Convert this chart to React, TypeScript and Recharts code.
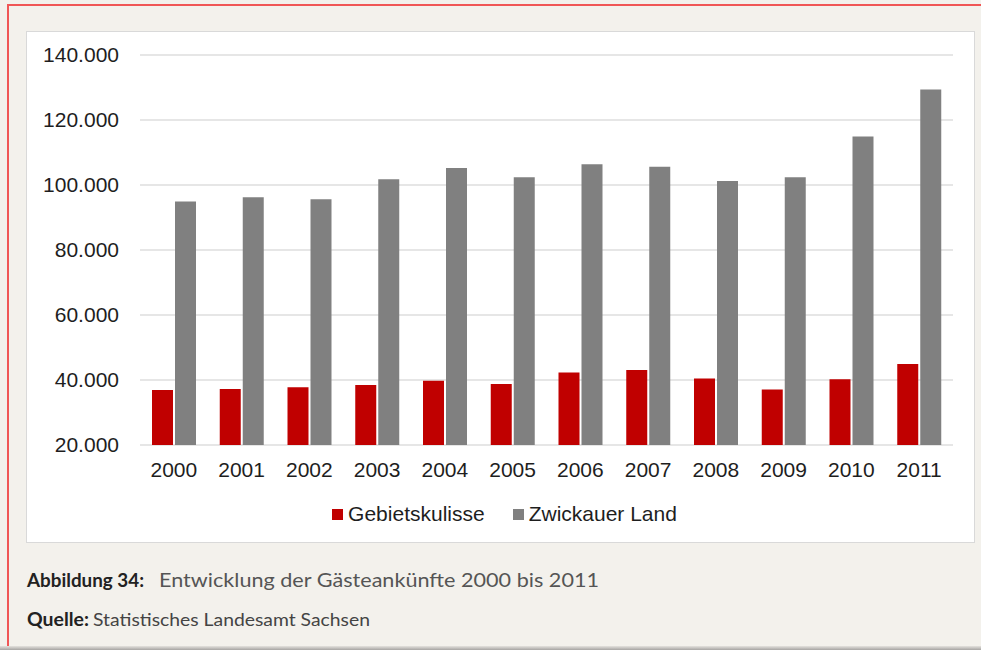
import React from "react";
import {
  Bar,
  BarChart,
  CartesianGrid,
  Legend,
  XAxis,
  YAxis,
} from "recharts";

// Gästeankünfte 2000 - 2011
const years = [
  "2000", "2001", "2002", "2003", "2004", "2005",
  "2006", "2007", "2008", "2009", "2010", "2011",
];
const gebietskulisse = [
  36900, 37200, 37800, 38500, 39800, 38800, 42300, 43100, 40500, 37100, 40200,
  44900,
];
const zwickauerLand = [
  94900, 96200, 95600, 101800, 105200, 102400, 106400, 105600, 101200, 102400,
  114900, 129400,
];
const yTicks = [20000, 40000, 60000, 80000, 100000, 120000, 140000];

const RED = "#c00000";
const GREY = "#808080";
const AXIS_FONT = "'Liberation Sans', Arial, sans-serif";
const CAPTION_FONT = "Lato, 'Open Sans', sans-serif";

const data = years.map((year, i) => ({
  year,
  gebietskulisse: gebietskulisse[i],
  zwickauerLand: zwickauerLand[i],
}));

const formatThousands = (v: number) =>
  v === 0 ? "0" : `${Math.floor(v / 1000)}.${String(v % 1000).padStart(3, "0")}`;

const renderLegend = (props: any) => {
  const payload = props.payload || [];
  return (
    <div
      style={{
        display: "flex",
        justifyContent: "center",
        paddingLeft: 8,
        fontFamily: AXIS_FONT,
        fontSize: 21,
        color: "#1e1e1e",
      }}
    >
      {payload.map((entry: any, i: number) => (
        <div
          key={entry.value}
          style={{
            display: "flex",
            alignItems: "center",
            marginLeft: i === 0 ? 0 : 28,
          }}
        >
          <span
            style={{
              display: "inline-block",
              width: 11,
              height: 11,
              background: entry.color,
              marginRight: 5,
            }}
          />
          <span>{entry.value}</span>
        </div>
      ))}
    </div>
  );
};

export default function App() {
  return (
    <div
      style={{
        position: "absolute",
        left: 0,
        top: 0,
        width: 981,
        height: 650,
        background: "#f3f1ec",
        overflow: "hidden",
      }}
    >
      {/* red frame, top and left only */}
      <div
        style={{
          position: "absolute",
          left: 7,
          top: 4,
          right: 0,
          height: 2,
          background: "#f05656",
        }}
      />
      <div
        style={{
          position: "absolute",
          left: 7,
          top: 4,
          bottom: 0,
          width: 2,
          background: "#f05656",
        }}
      />
      <div
        style={{
          position: "absolute",
          left: 0,
          right: 0,
          bottom: 0,
          height: 4,
          background: "linear-gradient(#e4e2de, #a6a4a2)",
        }}
      />

      {/* white chart panel */}
      <div
        style={{
          position: "absolute",
          left: 26,
          top: 31,
          width: 947,
          height: 510,
          background: "#ffffff",
          border: "1px solid #d9d9d9",
        }}
      >
        <BarChart
          width={949}
          height={512}
          data={data}
          margin={{ top: 24, right: 22, bottom: 68, left: 0 }}
          barGap={2}
          barSize={21}
          style={{ position: "absolute", left: -1, top: -1 }}
        >
          <CartesianGrid vertical={false} stroke="#dedede" strokeWidth={1.5} />
          <XAxis
            dataKey="year"
            height={30}
            axisLine={false}
            tickLine={false}
            tickSize={0}
            tickMargin={17}
            interval={0}
            tick={{ fill: "#1e1e1e", fontSize: 21, fontFamily: AXIS_FONT }}
          />
          <YAxis
            width={114}
            domain={[20000, 140000]}
            ticks={yTicks}
            allowDataOverflow
            axisLine={false}
            tickLine={false}
            tickSize={0}
            tickMargin={21}
            tickFormatter={formatThousands}
            tick={{ fill: "#1e1e1e", fontSize: 21, fontFamily: AXIS_FONT }}
          />
          <Legend
            layout="horizontal"
            verticalAlign="middle"
            align="center"
            wrapperStyle={{ top: 471, left: 0, width: 949 }}
            content={renderLegend}
          />
          <Bar
            dataKey="gebietskulisse"
            name="Gebietskulisse"
            fill={RED}
            isAnimationActive={false}
          />
          <Bar
            dataKey="zwickauerLand"
            name="Zwickauer Land"
            fill={GREY}
            isAnimationActive={false}
          />
        </BarChart>
      </div>

      {/* caption */}
      <svg
        width={981}
        height={100}
        style={{ position: "absolute", left: 0, top: 550 }}
      >
        <text
          x={27}
          y={36.5}
          fontFamily={CAPTION_FONT}
          fontWeight={700}
          fontSize={18}
          fill="#222222"
          textLength={117}
          lengthAdjust="spacingAndGlyphs"
        >
          Abbildung 34:
        </text>
        <text
          x={159}
          y={36.5}
          fontFamily={CAPTION_FONT}
          fontSize={20}
          fill="#555555"
          textLength={440}
          lengthAdjust="spacingAndGlyphs"
        >
          Entwicklung der Gästeankünfte 2000 bis 2011
        </text>
        <text
          x={27}
          y={76}
          fontFamily={CAPTION_FONT}
          fontWeight={700}
          fontSize={18}
          fill="#222222"
          textLength={62}
          lengthAdjust="spacingAndGlyphs"
        >
          Quelle:
        </text>
        <text
          x={93}
          y={76}
          fontFamily={CAPTION_FONT}
          fontSize={18}
          fill="#444444"
          textLength={277}
          lengthAdjust="spacingAndGlyphs"
        >
          Statistisches Landesamt Sachsen
        </text>
      </svg>
    </div>
  );
}
